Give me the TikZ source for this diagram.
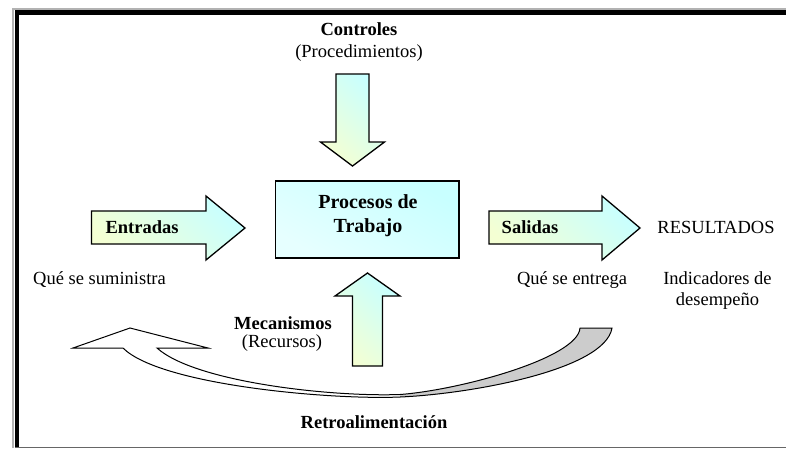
\documentclass[tikz,border=0pt]{standalone}
\usepackage{fontspec}
\setmainfont{Liberation Serif}
\usetikzlibrary{calc}

\definecolor{paleCyan}{RGB}{200,255,255}
\definecolor{paleYellow}{RGB}{255,255,200}
\definecolor{backGray}{RGB}{204,204,204}

\begin{document}
\begin{tikzpicture}[x=1pt,y=-1pt,
    txt/.style={inner sep=0pt, anchor=base, font=\fontsize{18.5}{22.2}\selectfont},
    bold/.style={txt, font=\fontsize{18.5}{22.2}\selectfont\bfseries},
    big/.style={txt, font=\fontsize{20}{24}\selectfont\bfseries},
    pale/.style={top color=paleCyan, bottom color=paleYellow!80!paleCyan, shading angle=-45},
    blockarrow/.style={pale, draw=black, line width=1.3pt, line join=miter}]
  \useasboundingbox (0,0) rectangle (786,448);

  %% Frame round the picture
  \draw[gray!60, line width=2pt] (13,448) -- (13,9) -- (786,9);
  \draw[line width=4.5pt] (17,448) -- (17,12.5) -- (786,12.5);
  \draw[gray!80!black, line width=1.5pt] (15,447.3) -- (786,447.3);

  %% Central box
  \node[draw=black, line width=1.3pt, minimum width=183.5pt, minimum height=77pt,
        top color=paleCyan, bottom color=paleCyan!45!white, shading angle=-30]
        (proc) at (367.25,219.5) {};
  \node[big] (procA) at (368,208.5) {Procesos de};
  \node[big] (procB) at ($(procA.base)+(0,24)$) {Trabajo};

  %% Block arrows round the box
  \draw[blockarrow] (91.5,211) -- (206,211) -- (206,196) -- (245,228)
        -- (206,260) -- (206,244) -- (91.5,244) -- cycle;
  \draw[blockarrow] (489,211) -- (602,211) -- (602,196) -- (640,228)
        -- (602,260) -- (602,244) -- (489,244) -- cycle;
  \draw[blockarrow] (336,74) -- (369,74) -- (369,142) -- (384.5,142) -- (352.5,166)
        -- (320.5,142) -- (336,142) -- cycle;
  \draw[blockarrow] (352.5,366) -- (382.5,366) -- (382.5,296) -- (400,296) -- (367.5,273)
        -- (335,296) -- (352.5,296) -- cycle;

  %% Labels
  \node[bold] (ctrl) at (359,35) {Controles};
  \node[txt] (proced) at ($(ctrl.base)+(0,22.5)$) {(Procedimientos)};
  \node[bold] (entr) at (142,233) {Entradas};
  \node[bold] (sal) at (530,233) {Salidas};
  \node[txt] (res) at (716,233) {RESULTADOS};
  \node[txt] (qsum) at (99.5,284) {Qué se suministra};
  \node[txt] (qent) at (572,284) {Qué se entrega};
  \node[txt] (indA) at (717.5,284) {Indicadores de};
  \node[txt] (indB) at ($(indA.base)+(0,21.5)$) {desempeño};
  \node[bold] (mec) at (283,329.5) {Mecanismos};
  \node[txt] (rec) at ($(mec.base)+(-1,18)$) {(Recursos)};
  \node[bold] (retro) at (374,428.5) {Retroalimentación};

  %% Curved feedback ribbon (white front, grey back past the neck)
  \coordinate (tip) at (73,348);
  \coordinate (neckUp) at (400,394.5);
  \coordinate (neckLo) at (400,397);
  \def\ribbon{(123,348) -- (tip) -- (130,328) -- (208,348) -- (157,348)
        .. controls (195,382) and (330,397) .. (neckUp)
        .. controls (460,390) and (578,358) .. (580,328) -- (612,328)
        .. controls (605,370) and (470,394) .. (neckLo)
        .. controls (330,400) and (160,385) .. (123,348) -- cycle}
  \fill[white] \ribbon;
  \begin{scope}
    \clip (400,300) rectangle (700,420);
    \fill[backGray] \ribbon;
  \end{scope}
  \draw[line width=1pt, line join=miter] \ribbon;
\end{tikzpicture}
\end{document}
